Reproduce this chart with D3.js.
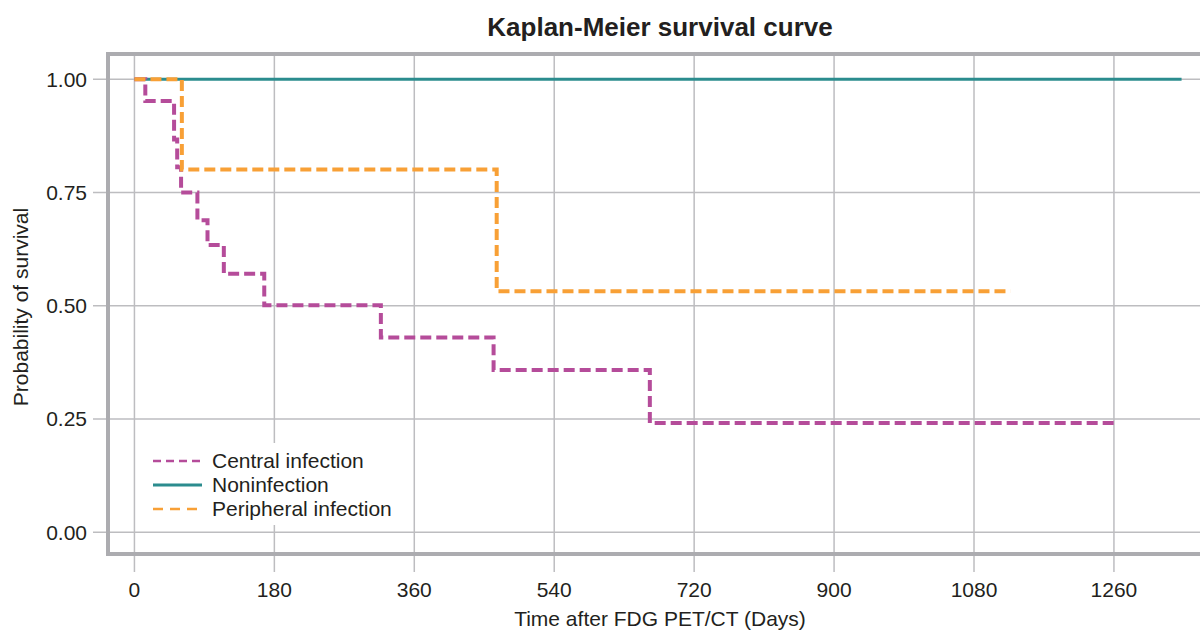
<!DOCTYPE html>
<html>
<head>
<meta charset="utf-8">
<script src="https://cdn.jsdelivr.net/npm/d3@7"></script>
<style>
  body { margin: 0; background: #fff; }
  text { font-family: "Liberation Sans", Arial, sans-serif; fill: #231f20; }
</style>
</head>
<body>
<svg id="km" width="1200" height="631"></svg>
<script>
// Kaplan-Meier step data (days, survival probability)
const centralTimes = [0, 14, 51, 55, 60, 81, 94, 115, 167, 317, 462, 663, 1266];
const centralSurv  = [1, 0.952, 0.867, 0.806, 0.750, 0.689, 0.634, 0.571, 0.501, 0.430, 0.358, 0.241, 0.241];

const nonTimes = [0, 1347];
const nonSurv  = [1, 1];

const periTimes = [0, 61, 466, 1127];
const periSurv  = [1, 0.801, 0.532, 0.532];

const xTicks = [0, 180, 360, 540, 720, 900, 1080, 1260];
const yTicks = [0, 0.25, 0.5, 0.75, 1];

const seriesNames = ["Central infection", "Noninfection", "Peripheral infection"];

const svg = d3.select("#km");
const plotL = 108, plotR = 1215, plotT = 54, plotB = 554;

const x = d3.scaleLinear().domain([-34, 1390]).range([plotL, plotR]);
const y = d3.scaleLinear().domain([-0.048, 1.056]).range([plotB, plotT]);

// grid lines + tick marks (extend outside frame)
svg.append("g")
  .selectAll("line")
  .data(xTicks)
  .enter().append("line")
  .attr("x1", d => x(d)).attr("x2", d => x(d))
  .attr("y1", plotT).attr("y2", 572)
  .attr("stroke", "#bdbdc0").attr("stroke-width", 1.5);

svg.append("g")
  .selectAll("line")
  .data(yTicks)
  .enter().append("line")
  .attr("x1", 93).attr("x2", plotR)
  .attr("y1", d => y(d)).attr("y2", d => y(d))
  .attr("stroke", "#bdbdc0").attr("stroke-width", 1.5);

// tick labels
svg.append("g")
  .selectAll("text")
  .data(xTicks)
  .enter().append("text")
  .attr("x", d => x(d)).attr("y", 597)
  .attr("text-anchor", "middle")
  .attr("font-size", 21)
  .text(d => d);

svg.append("g")
  .selectAll("text")
  .data(yTicks)
  .enter().append("text")
  .attr("x", 87).attr("y", d => y(d))
  .attr("dy", "0.35em")
  .attr("text-anchor", "end")
  .attr("font-size", 21)
  .text(d3.format(".2f"));

// legend background hides grid
svg.append("rect")
  .attr("x", 143).attr("y", 443).attr("width", 262).attr("height", 82)
  .attr("fill", "#fff");

const line = d3.line()
  .x(d => x(d[0]))
  .y(d => y(d[1]))
  .curve(d3.curveStepAfter);

const zipped = (t, s) => t.map((d, i) => [d, s[i]]);

svg.append("path")
  .datum(zipped(nonTimes, nonSurv))
  .attr("d", line)
  .attr("fill", "none")
  .attr("stroke", "#2b8c8e")
  .attr("stroke-width", 3);

svg.append("path")
  .datum(zipped(centralTimes, centralSurv))
  .attr("d", line)
  .attr("fill", "none")
  .attr("stroke", "#b54c9a")
  .attr("stroke-width", 4)
  .attr("stroke-dasharray", "11,5");

svg.append("path")
  .datum(zipped(periTimes, periSurv))
  .attr("d", line)
  .attr("fill", "none")
  .attr("stroke", "#f8a036")
  .attr("stroke-width", 4)
  .attr("stroke-dasharray", "11,5");

// frame
svg.append("rect")
  .attr("x", plotL).attr("y", plotT)
  .attr("width", plotR - plotL).attr("height", plotB - plotT)
  .attr("fill", "none")
  .attr("stroke", "#acacb0")
  .attr("stroke-width", 4);

// legend
const legendStyles = [
  { color: "#b54c9a", dash: "8,5", width: 2.5 },
  { color: "#2b8c8e", dash: null, width: 3 },
  { color: "#f8a036", dash: "10,7", width: 2.5 }
];
const legend = svg.append("g")
  .selectAll("g")
  .data(seriesNames)
  .enter().append("g")
  .attr("transform", (d, i) => `translate(153,${461 + i * 24})`);

legend.append("line")
  .attr("x1", 0).attr("x2", 49)
  .attr("stroke", (d, i) => legendStyles[i].color)
  .attr("stroke-width", (d, i) => legendStyles[i].width)
  .attr("stroke-dasharray", (d, i) => legendStyles[i].dash);

legend.append("text")
  .attr("x", 59).attr("dy", "0.35em")
  .attr("font-size", 21)
  .text(d => d);

// titles
svg.append("text")
  .attr("x", 660).attr("y", 36)
  .attr("text-anchor", "middle")
  .attr("font-size", 26)
  .attr("font-weight", "bold")
  .text("Kaplan-Meier survival curve");

svg.append("text")
  .attr("x", 660).attr("y", 626)
  .attr("text-anchor", "middle")
  .attr("font-size", 21)
  .text("Time after FDG PET/CT (Days)");

svg.append("text")
  .attr("transform", "translate(28,307) rotate(-90)")
  .attr("text-anchor", "middle")
  .attr("font-size", 21)
  .text("Probability of survival");
</script>
</body>
</html>
